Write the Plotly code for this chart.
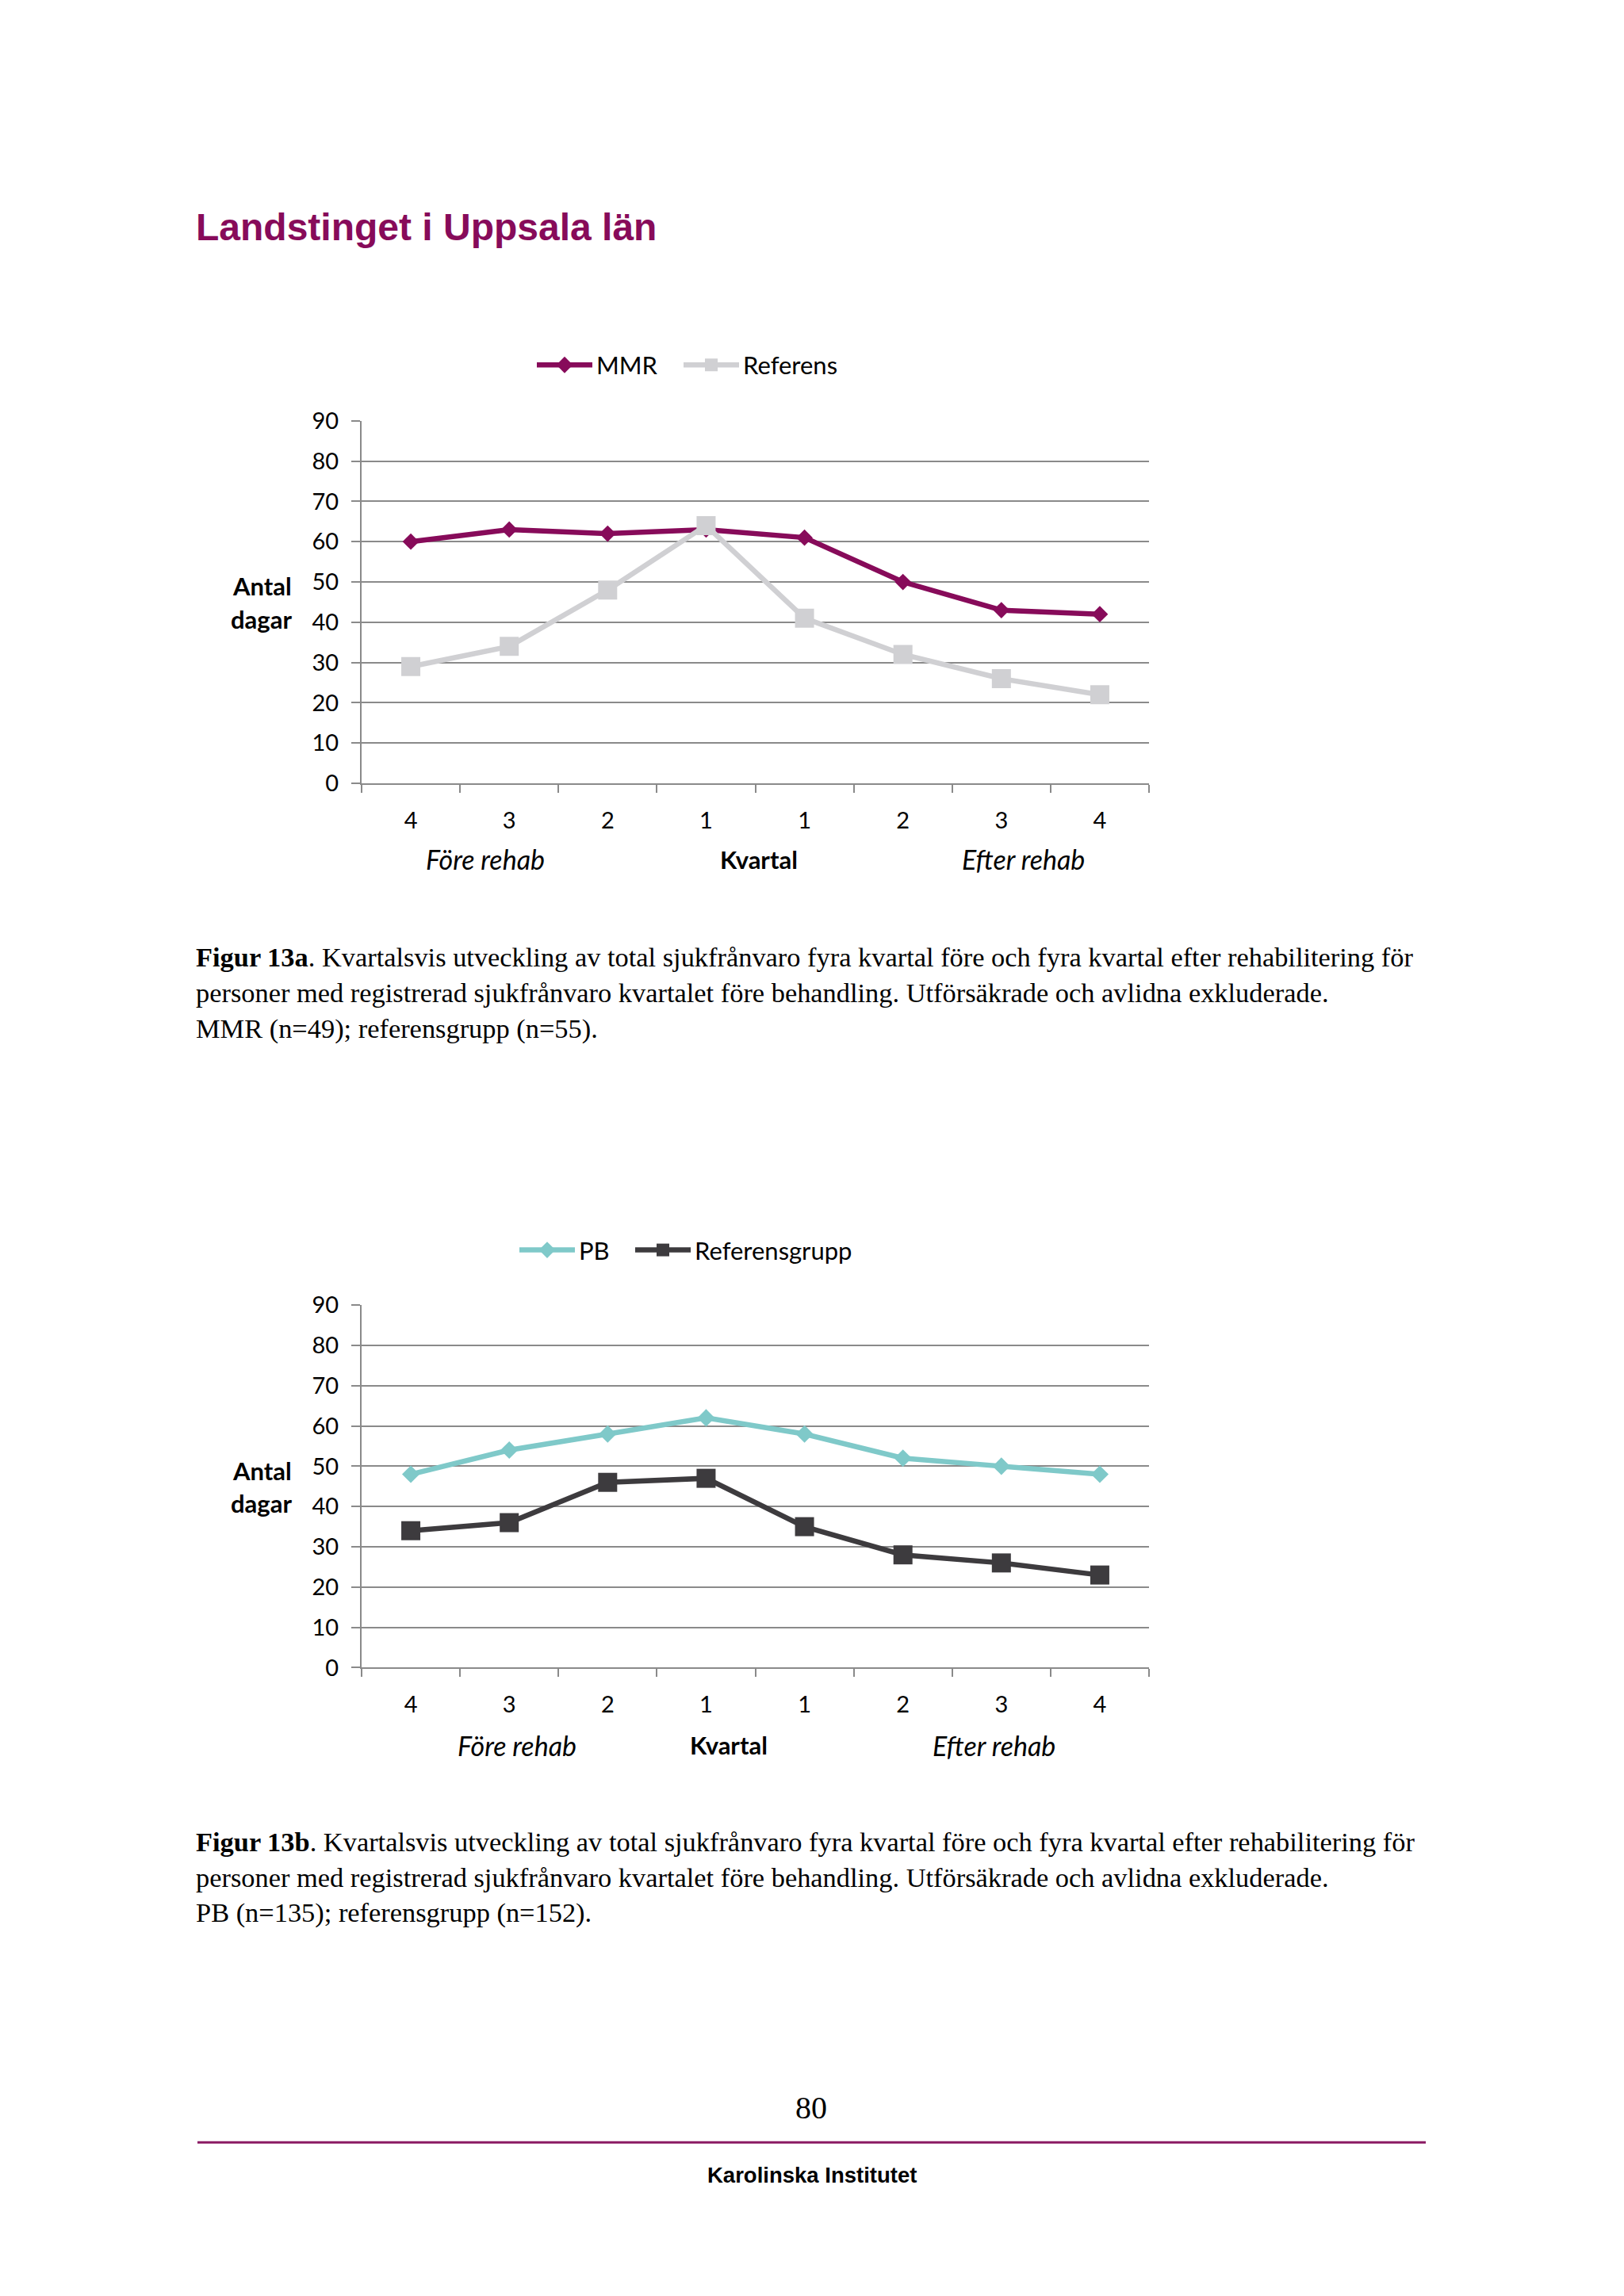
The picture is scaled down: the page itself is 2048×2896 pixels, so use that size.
import plotly.graph_objects as go

# ---------------- data ----------------
quarters = ["4", "3", "2", "1", "1", "2", "3", "4"]
mmr = [60, 63, 62, 63, 61, 50, 43, 42]
referens = [29, 34, 48, 64, 41, 32, 26, 22]
pb = [48, 54, 58, 62, 58, 52, 50, 48]
referensgrupp = [34, 36, 46, 47, 35, 28, 26, 23]
y_ticks = [0, 10, 20, 30, 40, 50, 60, 70, 80, 90]

W, H = 2048, 2896
def fx(p):
    return p / W
def fy(p):
    return 1 - p / H

x_pos = list(range(len(quarters)))
bounds = [i - 0.5 for i in range(len(quarters) + 1)]

GRID = "#8a8a8a"
FONT = "Lato"
MAG = "#870b5a"

fig = go.Figure()

fig.add_trace(go.Scatter(x=x_pos, y=mmr, name="MMR", mode="lines+markers",
                         line=dict(color=MAG, width=6.5),
                         marker=dict(symbol="diamond", size=16, color=MAG),
                         xaxis="x", yaxis="y", legend="legend"))
fig.add_trace(go.Scatter(x=x_pos, y=referens, name="Referens", mode="lines+markers",
                         line=dict(color="#d0d0d3", width=6.5),
                         marker=dict(symbol="square", size=24, color="#d0d0d3"),
                         xaxis="x", yaxis="y", legend="legend2"))
fig.add_trace(go.Scatter(x=x_pos, y=pb, name="PB", mode="lines+markers",
                         line=dict(color="#7fc9c9", width=6.5),
                         marker=dict(symbol="diamond", size=17, color="#7fc9c9"),
                         xaxis="x2", yaxis="y2", legend="legend3"))
fig.add_trace(go.Scatter(x=x_pos, y=referensgrupp, name="Referensgrupp", mode="lines+markers",
                         line=dict(color="#3d3b3e", width=6.5),
                         marker=dict(symbol="square", size=24, color="#3d3b3e"),
                         xaxis="x2", yaxis="y2", legend="legend4"))

def xaxis_cfg():
    return dict(
        domain=[fx(456), fx(1449)],
        range=[-0.5, len(quarters) - 0.5],
        tickmode="array", tickvals=x_pos, ticktext=quarters,
        ticks="", showgrid=False, zeroline=False,
        showline=True, linecolor=GRID, linewidth=2,
        tickfont=dict(family=FONT, size=29, color="#000000"),
        ticklabelstandoff=20,
        minor=dict(tickmode="array", tickvals=bounds, ticks="outside",
                   ticklen=10, tickwidth=2, tickcolor=GRID, showgrid=False),
        fixedrange=True,
    )

def yaxis_cfg(top, bottom, anchor):
    return dict(
        domain=[fy(bottom), fy(top)],
        range=[0, 90], tickmode="array", tickvals=y_ticks,
        ticks="outside", ticklen=11, tickwidth=2, tickcolor=GRID,
        showgrid=True, gridcolor=GRID, gridwidth=2, zeroline=False,
        showline=True, linecolor=GRID, linewidth=2,
        tickfont=dict(family=FONT, size=29, color="#000000"),
        ticklabelstandoff=10,
        anchor=anchor, fixedrange=True,
    )

x1 = xaxis_cfg(); x1["anchor"] = "y"
x2 = xaxis_cfg(); x2["anchor"] = "y2"

LEG_FONT = dict(family=FONT, size=31, color="#000000")
def leg(sym_x, y):
    return dict(orientation="h", x=fx(sym_x - 3), y=fy(y), xanchor="left", yanchor="middle",
                font=LEG_FONT, bgcolor="rgba(0,0,0,0)", itemwidth=70)

fig.update_layout(
    width=W, height=H,
    margin=dict(l=0, r=0, t=0, b=0),
    paper_bgcolor="#ffffff", plot_bgcolor="rgba(0,0,0,0)",
    xaxis=x1, yaxis=yaxis_cfg(518, 981, "x"),
    xaxis2=x2, yaxis2=yaxis_cfg(1647, 2110, "x2"),
    legend=leg(675, 447),
    legend2=leg(860, 447),
    legend3=leg(653, 1577),
    legend4=leg(799, 1577),
    showlegend=True,
)

ann = []
# page title
ann.append(dict(text="<b>Landstinget i Uppsala län</b>", x=fx(245), y=fy(271), xref="paper", yref="paper",
                xanchor="left", yanchor="middle", showarrow=False,
                font=dict(family="Liberation Sans", size=48, color=MAG)))

def chart_labels(off, fore_x, kv_x, eft_x, lab_y):
    out = []
    out.append(dict(text="<b>Antal</b>", x=fx(370), y=fy(729 + off), xref="paper", yref="paper",
                    xanchor="right", yanchor="middle", showarrow=False,
                    font=dict(family=FONT, size=31, color="#000000")))
    out.append(dict(text="<b>dagar</b>", x=fx(370), y=fy(771 + off), xref="paper", yref="paper",
                    xanchor="right", yanchor="middle", showarrow=False,
                    font=dict(family=FONT, size=31, color="#000000")))
    out.append(dict(text="<i>Före rehab</i>", x=fx(fore_x), y=fy(lab_y), xref="paper", yref="paper",
                    xanchor="center", yanchor="middle", showarrow=False,
                    font=dict(family=FONT, size=34, color="#000000")))
    out.append(dict(text="<b>Kvartal</b>", x=fx(kv_x), y=fy(lab_y), xref="paper", yref="paper",
                    xanchor="center", yanchor="middle", showarrow=False,
                    font=dict(family=FONT, size=31, color="#000000")))
    out.append(dict(text="<i>Efter rehab</i>", x=fx(eft_x), y=fy(lab_y), xref="paper", yref="paper",
                    xanchor="center", yanchor="middle", showarrow=False,
                    font=dict(family=FONT, size=34, color="#000000")))
    return out

ann += chart_labels(0, 612, 957, 1290, 1078)
ann += chart_labels(1129, 652, 919, 1253, 2209)

cap_common = "Kvartalsvis utveckling av total sjukfrånvaro fyra kvartal före och fyra kvartal efter rehabilitering för"
cap_line2 = "personer med registrerad sjukfrånvaro kvartalet före behandling. Utförsäkrade och avlidna exkluderade."
captions = [
    ("<b>Figur 13a</b>. " + cap_common, cap_line2, "MMR (n=49); referensgrupp (n=55).", 1203),
    ("<b>Figur 13b</b>. " + cap_common, cap_line2, "PB (n=135); referensgrupp (n=152).", 2332),
]
for l1, l2, l3, y0 in captions:
    for i, t in enumerate([l1, l2, l3]):
        ann.append(dict(text=t, x=fx(245), y=fy(y0 + 45.5 * i), xref="paper", yref="paper",
                        xanchor="left", yanchor="middle", showarrow=False,
                        font=dict(family="Liberation Serif", size=34.4, color="#000000")))

# footer
ann.append(dict(text="80", x=fx(1023), y=fy(2672), xref="paper", yref="paper",
                xanchor="center", yanchor="middle", showarrow=False,
                font=dict(family="Liberation Serif", size=40, color="#000000")))
ann.append(dict(text="<b>Karolinska Institutet</b>", x=fx(1024), y=fy(2758), xref="paper", yref="paper",
                xanchor="center", yanchor="middle", showarrow=False,
                font=dict(family="Liberation Sans", size=27.5, color="#000000")))

fig.update_layout(annotations=ann)
fig.add_shape(type="line", xref="paper", yref="paper",
              x0=fx(249), x1=fx(1798), y0=fy(2716), y1=fy(2716),
              line=dict(color="#8b1a63", width=3))

fig.write_html("out.html",
               config={"displayModeBar": False},
               post_script="document.body.style.margin='0';document.body.style.overflow='hidden';")
